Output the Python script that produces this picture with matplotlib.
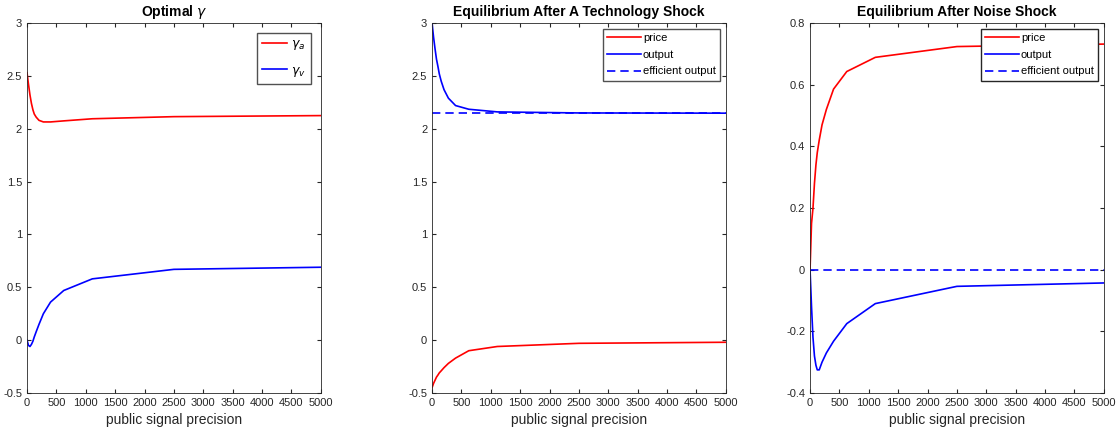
import numpy as np
import matplotlib.pyplot as plt

plt.rcParams['font.family'] = ['Liberation Sans Narrow', 'Liberation Sans', 'DejaVu Sans']
plt.rcParams['mathtext.fontset'] = 'dejavusans'

# public signal precision grid
precision = [0, 25, 50, 75, 100, 123, 156, 204, 278, 400, 625, 1111, 2500, 5000]

# optimal gamma
gamma_a = [2.53, 2.42, 2.32, 2.24, 2.18, 2.14, 2.11, 2.08, 2.065, 2.065, 2.075, 2.095, 2.115, 2.125]
gamma_v = [0.0, -0.05, -0.06, -0.04, -0.01, 0.03, 0.08, 0.15, 0.25, 0.36, 0.47, 0.58, 0.67, 0.69]

# technology shock
tech_price = [-0.45, -0.41, -0.38, -0.35, -0.33, -0.31, -0.29, -0.26, -0.22, -0.17, -0.10, -0.06, -0.03, -0.02]
tech_output = [3.0, 2.87, 2.76, 2.66, 2.59, 2.52, 2.45, 2.37, 2.29, 2.22, 2.185, 2.16, 2.15, 2.148]
tech_efficient = 2.147

# noise shock
noise_price = [0.0, 0.15, 0.2, 0.28, 0.34, 0.38, 0.42, 0.47, 0.52, 0.586, 0.643, 0.689, 0.724, 0.732]
noise_output = [0.0, -0.12, -0.22, -0.28, -0.31, -0.325, -0.325, -0.3, -0.27, -0.232, -0.175, -0.11, -0.054, -0.043]
noise_efficient = 0.0

grey = '#262626'
fig = plt.figure(figsize=(11.17, 4.44), dpi=100)
lefts = [0.0242, 0.3868, 0.7252]
axs = [fig.add_axes([l, 0.1149, 0.263, 0.833]) for l in lefts]

def style(ax, yticks, ylabels):
    ax.set_xlim(0, 5000)
    ax.set_xticks(np.arange(0, 5001, 500))
    ax.set_yticks(yticks)
    ax.set_yticklabels(ylabels)
    ax.set_ylim(yticks[0], yticks[-1])
    ax.tick_params(direction='in', top=True, right=True, labelsize=8, colors=grey, length=3)
    for s in ax.spines.values():
        s.set_color(grey)
        s.set_linewidth(0.6)
    ax.set_xlabel('public signal precision', fontsize=10, color=grey)

# panel 1
ax = axs[0]
ax.plot(precision, gamma_a, color='red', lw=1.2, label=r'$\gamma_a$')
ax.plot(precision, gamma_v, color='blue', lw=1.2, label=r'$\gamma_v$')
style(ax, [-0.5, 0, 0.5, 1, 1.5, 2, 2.5, 3], ['-0.5', '0', '0.5', '1', '1.5', '2', '2.5', '3'])
ax.set_title(r'Optimal $\gamma$', fontsize=10, fontweight='bold', pad=5)
leg = ax.legend(loc='upper right', fontsize=9, fancybox=False, handlelength=2.0,
                handletextpad=0.3, labelspacing=1.0, borderaxespad=0.8)
leg.get_frame().set_edgecolor(grey)

# panel 2
ax = axs[1]
ax.plot(precision, tech_price, color='red', lw=1.2, label='price')
ax.plot(precision, tech_output, color='blue', lw=1.2, label='output')
ax.plot([precision[0], precision[-1]], [tech_efficient, tech_efficient], color='blue',
        lw=1.2, ls=(0, (5, 3)), label='efficient output')
style(ax, [-0.5, 0, 0.5, 1, 1.5, 2, 2.5, 3], ['-0.5', '0', '0.5', '1', '1.5', '2', '2.5', '3'])
ax.set_title('Equilibrium After A Technology Shock', fontsize=10, fontweight='bold', pad=5)
leg = ax.legend(loc='upper right', fontsize=8, fancybox=False, handlelength=3.0,
                handletextpad=0.2, labelspacing=0.6, borderaxespad=0.5, borderpad=0.4)
leg.get_frame().set_edgecolor(grey)

# panel 3
ax = axs[2]
ax.plot(precision, noise_price, color='red', lw=1.2, label='price')
ax.plot(precision, noise_output, color='blue', lw=1.2, label='output')
ax.plot([precision[0], precision[-1]], [noise_efficient, noise_efficient], color='blue',
        lw=1.2, ls=(0, (5, 3)), label='efficient output')
style(ax, [-0.4, -0.2, 0, 0.2, 0.4, 0.6, 0.8], ['-0.4', '-0.2', '0', '0.2', '0.4', '0.6', '0.8'])
ax.set_title('Equilibrium After Noise Shock', fontsize=10, fontweight='bold', pad=5)
leg = ax.legend(loc='upper right', fontsize=8, fancybox=False, handlelength=3.0,
                handletextpad=0.2, labelspacing=0.6, borderaxespad=0.5, borderpad=0.4,
                framealpha=1)
leg.get_frame().set_edgecolor(grey)

plt.savefig('out.png', dpi=100)
